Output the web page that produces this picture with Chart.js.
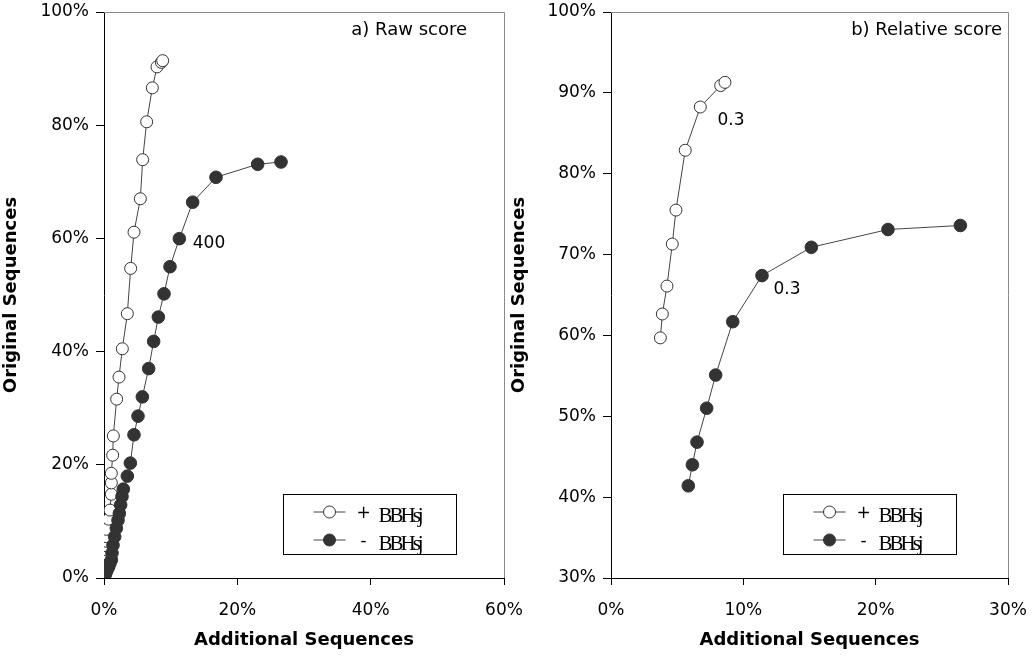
<!DOCTYPE html>
<html><head><meta charset="utf-8">
<script src="https://cdn.jsdelivr.net/npm/chart.js@4.4.0/dist/chart.umd.min.js"></script>
<style>
html,body{margin:0;padding:0;background:#fff;}
#ca{position:absolute;left:0;top:0;}
#cb{position:absolute;left:505px;top:0;}
</style></head><body>
<canvas id="ca" width="530" height="659"></canvas>
<canvas id="cb" width="528" height="659"></canvas>
<script>
// ---- Panel a) Raw score ----
const rawPlusX  = [0.03,0.06,0.1,0.13,0.16,0.19,0.22,0.25,0.27,0.3,0.32,0.35,0.4,0.7,0.9,1.1,1.1,1.1,1.3,1.4,1.9,2.25,2.75,3.5,4.0,4.5,5.45,5.8,6.4,7.25,7.95,8.6,8.8];
const rawPlusY  = [0.3,0.7,1.2,1.8,2.4,3.0,3.6,4.3,5.0,5.7,6.5,7.3,8.6,10.4,12.0,14.8,16.8,18.5,21.7,25.1,31.6,35.5,40.5,46.7,54.7,61.1,67.0,73.9,80.6,86.6,90.3,91.1,91.4];
const rawMinusX = [0.05,0.2,0.35,0.55,0.7,0.9,1.1,1.2,1.35,1.6,1.85,2.1,2.3,2.5,2.7,2.9,3.5,3.95,4.5,5.1,5.75,6.7,7.45,8.15,9.0,9.9,11.3,13.3,16.8,23.05,26.55];
const rawMinusY = [0.2,0.6,1.1,1.6,2.0,2.6,3.2,4.4,5.8,7.3,8.8,10.2,11.4,12.9,14.4,15.7,18.0,20.3,25.3,28.6,32.0,37.0,41.8,46.1,50.2,55.0,59.95,66.4,70.8,73.1,73.5];
const rawXTicks = [0, 60, 20];   // min, max, step (%)
const rawYTicks = [0, 100, 20];
const rawNotes  = [[15.75, 59.0, '400']];

// ---- Panel b) Relative score ----
const relPlusX  = [3.73,3.88,4.23,4.63,4.91,5.61,6.75,8.29,8.61];
const relPlusY  = [59.7,62.65,66.1,71.3,75.5,82.9,88.25,90.9,91.3];
const relMinusX = [5.84,6.15,6.5,7.23,7.91,9.2,11.41,15.14,20.93,26.4];
const relMinusY = [41.4,44.0,46.8,51.0,55.1,61.7,67.4,70.9,73.1,73.6];
const relXTicks = [0, 30, 10];
const relYTicks = [30, 100, 10];
const relNotes  = [[9.07, 86.6, '0.3'], [13.3, 65.7, '0.3']];

const seriesNames = ['+', '-'];
const seriesLabel = 'BBHsj';
const xTitle = 'Additional Sequences';
const yTitle = 'Original Sequences';

Chart.defaults.font.family = '"DejaVu Sans", sans-serif';
Chart.defaults.font.size = 17;
Chart.defaults.color = '#000';

function pts(xs, ys){ return xs.map((x,i)=>({x:x, y:ys[i]})); }

const decor = {
  id: 'decor',
  afterDraw(chart, args, o){
    const ctx = chart.ctx, ca = chart.chartArea;
    const xs = chart.scales.x, ys = chart.scales.y;
    ctx.save();
    // gray frame top/right
    ctx.strokeStyle = '#8a8a8a'; ctx.lineWidth = 1;
    ctx.beginPath();
    ctx.moveTo(ca.left, Math.round(ca.top)+0.5);
    ctx.lineTo(Math.round(ca.right)+0.5, Math.round(ca.top)+0.5);
    ctx.lineTo(Math.round(ca.right)+0.5, ca.bottom);
    ctx.stroke();
    // panel title
    ctx.fillStyle = '#000';
    ctx.font = '18px "DejaVu Sans"';
    ctx.textAlign = 'right'; ctx.textBaseline = 'middle';
    ctx.fillText(o.title, ca.right - o.titleDx, ca.top + 18);
    // annotations
    ctx.font = '17px "DejaVu Sans"';
    ctx.textAlign = 'center';
    o.notes.forEach(n => ctx.fillText(n[2], xs.getPixelForValue(n[0]), ys.getPixelForValue(n[1])));
    // legend box
    const bx = Math.round(ca.left + o.legDx) + 0.5, bw = 173;
    const by = Math.round(ca.bottom - 84) + 0.5, bh = 60;
    ctx.fillStyle = '#fff';
    ctx.fillRect(bx, by, bw, bh);
    ctx.strokeStyle = '#000';
    ctx.strokeRect(bx, by, bw, bh);
    const rows = [[by + 17.5, '#fff'], [by + 45.5, '#333']];
    rows.forEach((r, i) => {
      const ry = r[0];
      ctx.strokeStyle = '#444'; ctx.lineWidth = 1;
      ctx.beginPath(); ctx.moveTo(bx + 30, ry); ctx.lineTo(bx + 62, ry); ctx.stroke();
      ctx.beginPath(); ctx.arc(bx + 46, ry, 6, 0, Math.PI*2);
      ctx.fillStyle = r[1]; ctx.fill();
      ctx.strokeStyle = '#333'; ctx.stroke();
      ctx.fillStyle = '#000';
      ctx.font = '17px "DejaVu Sans"';
      ctx.textAlign = 'center'; ctx.textBaseline = 'middle';
      ctx.fillText(seriesNames[i], bx + 80, ry + 2);
      ctx.font = '21px "Liberation Serif"';
      ctx.textAlign = 'left'; ctx.textBaseline = 'alphabetic';
      try { ctx.letterSpacing = '-3px'; } catch(e) {}
      ctx.fillText(seriesLabel, bx + 95, ry + 10);
      try { ctx.letterSpacing = '0px'; } catch(e) {}
    });
    ctx.restore();
  }
};

function makeChart(id, plusX, plusY, minusX, minusY, xt, yt, yWidth, yTitlePad, rightPad, opts){
  return new Chart(document.getElementById(id), {
    type: 'scatter',
    data: {
      datasets: [
        { label: '- ' + seriesLabel, data: pts(minusX, minusY), order: 0,
          showLine: true, borderColor: '#444', borderWidth: 1,
          pointRadius: 6.3, pointBackgroundColor: '#333', pointBorderColor: '#333', pointBorderWidth: 1 },
        { label: '+ ' + seriesLabel, data: pts(plusX, plusY), order: 1,
          showLine: true, borderColor: '#444', borderWidth: 1,
          pointRadius: 6, pointBackgroundColor: '#fff', pointBorderColor: '#333', pointBorderWidth: 1 }
      ]
    },
    options: {
      responsive: false, animation: false, devicePixelRatio: 1,
      layout: { padding: { top: 12, right: rightPad, left: 0, bottom: 0 } },
      plugins: { legend: { display: false }, tooltip: { enabled: false }, decor: opts },
      scales: {
        x: { type: 'linear', min: xt[0], max: xt[1],
             ticks: { stepSize: xt[2], callback: v => v + '%', padding: 15, maxRotation: 0 },
             grid: { drawOnChartArea: false, drawTicks: true, tickLength: 7, color: '#000' },
             border: { color: '#000', width: 1 },
             title: { display: true, text: xTitle, font: { size: 18, weight: 'bold' }, padding: { top: 0, bottom: 8 } },
             afterFit(s){ s.height = 81; s.paddingLeft = 0; s.paddingRight = 0; } },
        y: { type: 'linear', min: yt[0], max: yt[1],
             ticks: { stepSize: yt[2], callback: v => v + '%', padding: 7 },
             grid: { drawOnChartArea: false, drawTicks: true, tickLength: 8, color: '#000' },
             border: { color: '#000', width: 1 },
             title: { display: true, text: yTitle, font: { size: 18, weight: 'bold' }, padding: { top: yTitlePad, bottom: 0 } },
             afterFit(s){ s.width = yWidth; s.paddingTop = 0; s.paddingBottom = 0; } }
      }
    },
    plugins: [decor]
  });
}

makeChart('ca', rawPlusX, rawPlusY, rawMinusX, rawMinusY, rawXTicks, rawYTicks, 104, 1, 26,
  { title: 'a) Raw score', titleDx: 37, notes: rawNotes, legDx: 179 });
makeChart('cb', relPlusX, relPlusY, relMinusX, relMinusY, relXTicks, relYTicks, 106, 4, 25,
  { title: 'b) Relative score', titleDx: 6, notes: relNotes, legDx: 172 });
</script>
</body></html>
